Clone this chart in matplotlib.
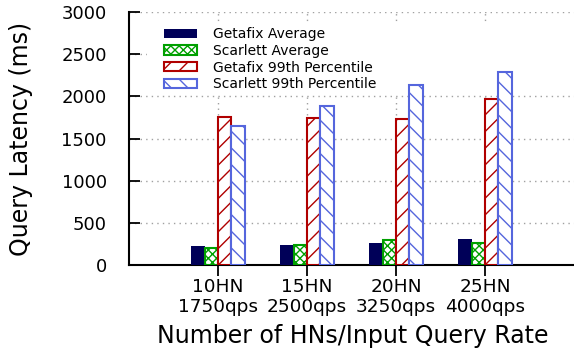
import matplotlib
matplotlib.use('Agg')
import matplotlib.pyplot as plt
from matplotlib.patches import Rectangle

# values
categories = ['10HN\n1750qps', '15HN\n2500qps', '20HN\n3250qps', '25HN\n4000qps']
getafix_avg = [225, 237, 265, 305]
scarlett_avg = [198, 233, 293, 265]
getafix_p99 = [1755, 1747, 1736, 1969]
scarlett_p99 = [1652, 1890, 2131, 2293]
series_names = ['Getafix Average', 'Scarlett Average',
                'Getafix 99th Percentile', 'Scarlett 99th Percentile']

plt.rcParams['font.family'] = 'DejaVu Sans'
plt.rcParams['hatch.linewidth'] = 1.0

fig = plt.figure(figsize=(5.74, 3.52), dpi=100)
ax = fig.add_axes([0.2247, 0.247, 0.7753, 0.719])

xs = list(range(1, len(categories) + 1))
w = 0.15
styles = [
    dict(color='#000058', edgecolor='#000058', linewidth=0),
    dict(facecolor='white', edgecolor='#00a000', hatch='xxxx', linewidth=1.5),
    dict(facecolor='white', edgecolor='#b00000', hatch='//', linewidth=1.5),
    dict(facecolor='white', edgecolor='#5566dd', hatch='\\\\', linewidth=1.5),
]
all_series = [getafix_avg, scarlett_avg, getafix_p99, scarlett_p99]
for i, (vals, name, st) in enumerate(zip(all_series, series_names, styles)):
    pos = [x + (i - 2) * w for x in xs]
    ax.bar(pos, vals, width=w, align='edge', label=name, zorder=3, **st)

ax.set_xlim(0, 5)
ax.set_ylim(0, 3000)
ax.set_xticks(xs)
ax.set_xticklabels(categories)
ax.set_yticks(range(0, 3001, 500))

ax.grid(True, color='#a0a0a0', linestyle=(0, (1, 3)), linewidth=1)
ax.set_axisbelow(True)

# white box behind the legend hides grid lines, like gnuplot's opaque key
ax.add_patch(Rectangle((0.04, 0.672), 0.96, 0.277, transform=ax.transAxes,
                       facecolor='white', edgecolor='none', zorder=1))

for s in ['top', 'right']:
    ax.spines[s].set_visible(False)
ax.spines['left'].set_linewidth(1.5)
ax.spines['bottom'].set_linewidth(1.5)

ax.tick_params(axis='y', direction='in', length=8, width=1.3, pad=16, labelsize=13)
ax.tick_params(axis='x', direction='out', length=8, width=1.3, pad=1, labelsize=13.3)

ax.set_ylabel('Query Latency (ms)', fontsize=17)
ax.yaxis.set_label_coords(-0.2155, 0.5)
ax.set_xlabel('Number of HNs/Input Query Rate', fontsize=17)
ax.xaxis.set_label_coords(0.502, -0.232)

ax.legend(loc='upper left', bbox_to_anchor=(0.0786, 0.94), frameon=False,
          fontsize=10, handlelength=2.35, handleheight=0.65, handletextpad=1.2,
          labelspacing=0.2, borderpad=0, borderaxespad=0)

fig.savefig('out.png', dpi=100)
